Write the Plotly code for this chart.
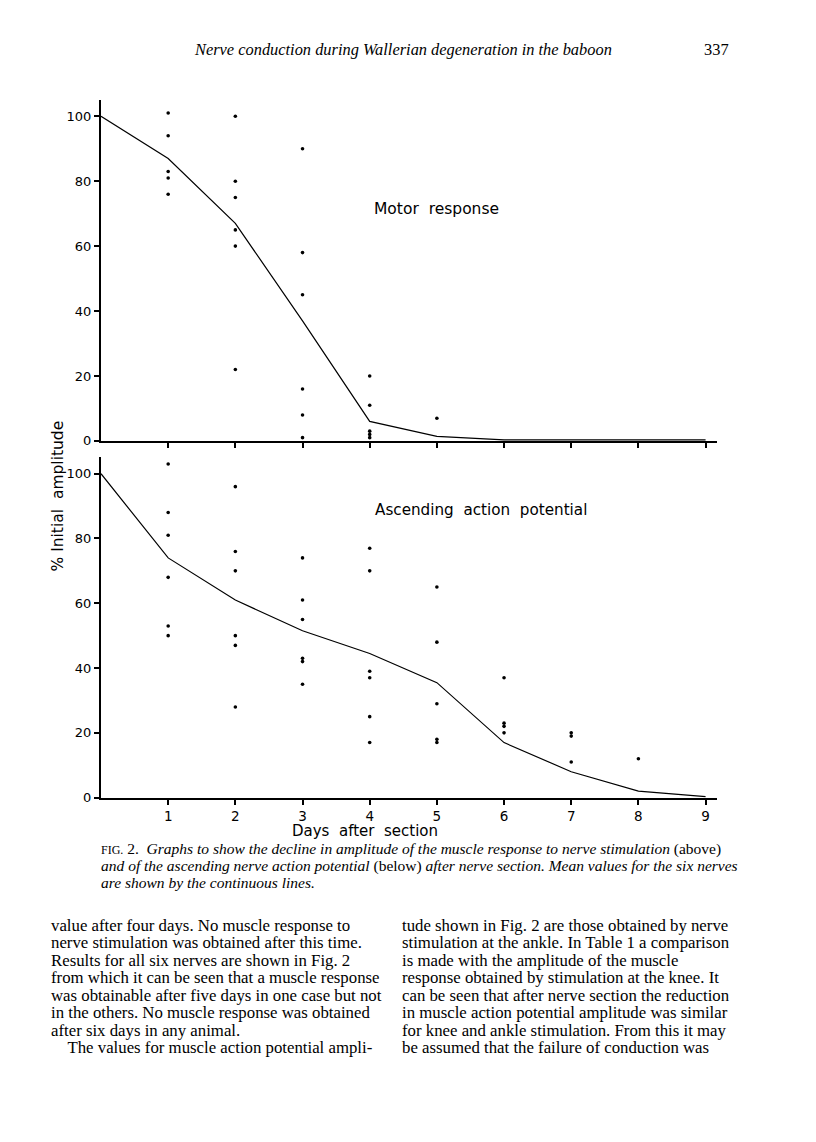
import plotly.graph_objects as go

# page geometry: browser body has an 8px margin, so the figure is 800x1126
PAGE_W, PAGE_H = 816, 1142
OFF = 8
W, H = PAGE_W - 2 * OFF, PAGE_H - 2 * OFF

# ---------------- data ----------------
days = [0, 1, 2, 3, 4, 5, 6, 7, 8, 9]
motor_mean = [100, 87, 67, 37, 6, 1.4, 0.3, 0.3, 0.3, 0.3]
motor_days = [1, 1, 1, 1, 1,
              2, 2, 2, 2, 2, 2,
              3, 3, 3, 3, 3, 3,
              4, 4, 4, 4, 4,
              5]
motor_values = [101, 94, 83, 81, 76,
                100, 80, 75, 65, 60, 22,
                90, 58, 45, 16, 8, 1,
                20, 11, 3, 2, 1,
                7]

ap_mean = [100, 74, 61, 51.5, 44.5, 35.5, 17, 8, 2, 0.3]
ap_days = [1, 1, 1, 1, 1, 1,
           2, 2, 2, 2, 2, 2,
           3, 3, 3, 3, 3, 3,
           4, 4, 4, 4, 4, 4,
           5, 5, 5, 5, 5,
           6, 6, 6, 6,
           7, 7, 7,
           8]
ap_values = [103, 88, 81, 68, 53, 50,
             96, 76, 70, 50, 47, 28,
             74, 61, 55, 43, 42, 35,
             77, 70, 39, 37, 25, 17,
             65, 48, 29, 18, 17,
             37, 23, 22, 20,
             20, 19, 11,
             12]

y_ticks = [0, 20, 40, 60, 80, 100]
x_ticks = [1, 2, 3, 4, 5, 6, 7, 8, 9]

header_text = "Nerve conduction during Wallerian degeneration in the baboon"
page_number = "337"
caption_lines = [
    "<span style='font-size:12px'>FIG.</span> 2.  <i>Graphs to show the decline in amplitude of the muscle response to nerve stimulation</i> (above)",
    "<i>and of the ascending nerve action potential</i> (below) <i>after nerve section. Mean values for the six nerves</i>",
    "<i>are shown by the continuous lines.</i>",
]
left_col = [
    "value after four days. No muscle response to",
    "nerve stimulation was obtained after this time.",
    "Results for all six nerves are shown in Fig. 2",
    "from which it can be seen that a muscle response",
    "was obtainable after five days in one case but not",
    "in the others. No muscle response was obtained",
    "after six days in any animal.",
    "    The values for muscle action potential ampli-",
]
right_col = [
    "tude shown in Fig. 2 are those obtained by nerve",
    "stimulation at the ankle. In Table 1 a comparison",
    "is made with the amplitude of the muscle",
    "response obtained by stimulation at the knee. It",
    "can be seen that after nerve section the reduction",
    "in muscle action potential amplitude was similar",
    "for knee and ankle stimulation. From this it may",
    "be assumed that the failure of conduction was",
]

# ---------------- helpers ----------------
def px(x):
    return (x - OFF) / W

def py(y):
    return 1 - (y - OFF) / H

SANS = "DejaVu Sans"
SERIF = "Liberation Serif"

fig = go.Figure()

fig.add_trace(go.Scatter(x=days, y=motor_mean, mode="lines",
                         line=dict(color="black", width=1.2),
                         xaxis="x", yaxis="y", showlegend=False))
fig.add_trace(go.Scatter(x=motor_days, y=motor_values, mode="markers",
                         marker=dict(color="black", size=3.6),
                         xaxis="x", yaxis="y", showlegend=False))
fig.add_trace(go.Scatter(x=days, y=ap_mean, mode="lines",
                         line=dict(color="black", width=1.2),
                         xaxis="x2", yaxis="y2", showlegend=False))
fig.add_trace(go.Scatter(x=ap_days, y=ap_values, mode="markers",
                         marker=dict(color="black", size=3.6),
                         xaxis="x2", yaxis="y2", showlegend=False))

x_dom = [px(101), px(717)]
common_x = dict(range=[0, 9.17], showline=True, linewidth=2, linecolor="black",
                ticks="outside", tickvals=x_ticks, ticklen=5, tickwidth=1.5,
                tickcolor="black", showgrid=False, zeroline=False,
                tickfont=dict(family=SANS, size=13.5, color="black"), domain=x_dom)
common_y = dict(range=[0, 105], showline=True, linewidth=2, linecolor="black",
                ticks="outside", tickvals=y_ticks, ticklen=5, tickwidth=1.5,
                tickcolor="black", showgrid=False, zeroline=False,
                tickfont=dict(family=SANS, size=13, color="black"))

annotations = [
    dict(text="Motor  response", x=px(372), y=py(210), xanchor="left", yanchor="middle",
         font=dict(family=SANS, size=15.5, color="black")),
    dict(text="Ascending  action  potential", x=px(373), y=py(514), xanchor="left", yanchor="middle",
         font=dict(family=SANS, size=15.2, color="black")),
    dict(text="% Initial  amplitude", x=px(58), y=py(500), textangle=-90,
         xanchor="center", yanchor="middle",
         font=dict(family=SANS, size=15.5, color="black")),
    dict(text="Days  after  section", x=px(365), y=py(837), xanchor="center", yanchor="middle",
         font=dict(family=SANS, size=15, color="black")),
    dict(text="<i>" + header_text + "</i>", x=px(192), y=py(50), xanchor="left", yanchor="middle",
         font=dict(family=SERIF, size=16.4, color="black")),
    dict(text=page_number, x=px(731), y=py(50), xanchor="right", yanchor="middle",
         font=dict(family=SERIF, size=16.4, color="black")),
]
for i, line in enumerate(caption_lines):
    annotations.append(dict(text=line, x=px(99), y=py(855 + 16.9 * i), xanchor="left",
                            yanchor="middle",
                            font=dict(family=SERIF, size=15.5, color="black")))
for i, line in enumerate(left_col):
    annotations.append(dict(text=line, x=px(49), y=py(932 + 17.6 * i), xanchor="left",
                            yanchor="middle",
                            font=dict(family=SERIF, size=16.8, color="black")))
for i, line in enumerate(right_col):
    annotations.append(dict(text=line, x=px(400), y=py(932 + 17.6 * i), xanchor="left",
                            yanchor="middle",
                            font=dict(family=SERIF, size=16.8, color="black")))
for a in annotations:
    a.update(xref="paper", yref="paper", showarrow=False)

fig.update_layout(
    width=W, height=H, autosize=False,
    margin=dict(l=0, r=0, t=0, b=0),
    paper_bgcolor="white", plot_bgcolor="white",
    xaxis=dict(common_x, anchor="y", showticklabels=False),
    yaxis=dict(common_y, anchor="x", domain=[py(444), py(100.7)]),
    xaxis2=dict(common_x, anchor="y2", showticklabels=True),
    yaxis2=dict(common_y, anchor="x2", domain=[py(803.3), py(460.7)]),
    annotations=annotations,
)

fig.write_html("out.html")
